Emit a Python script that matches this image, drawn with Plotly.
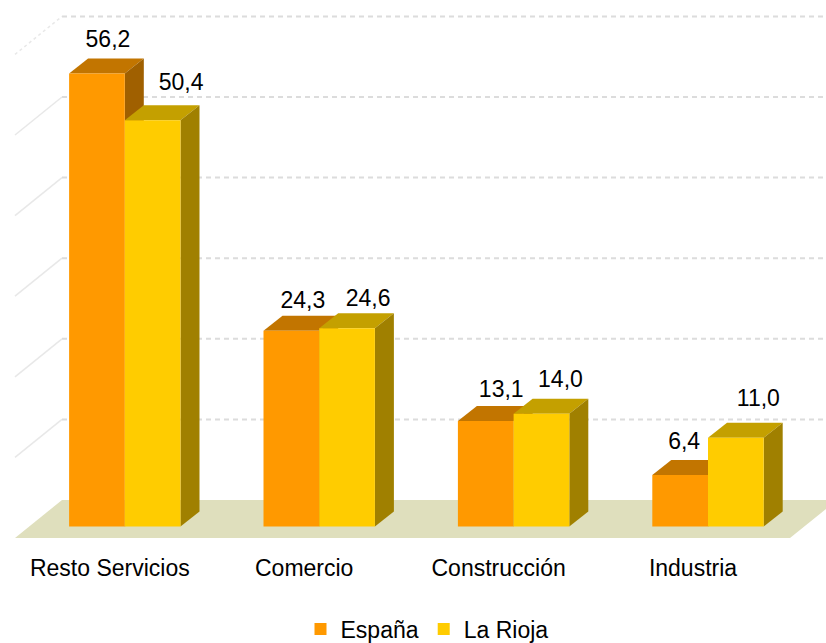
import plotly.graph_objects as go

# --- data ---
categories = ["Resto Servicios", "Comercio", "Construcción", "Industria"]
espana = [56.2, 24.3, 13.1, 6.4]
la_rioja = [50.4, 24.6, 14.0, 11.0]
grid_values = [10, 20, 30, 40, 50, 60]

# --- pixel geometry of the drawing ---
W, H = 826, 643
PLOT_BOTTOM = 552          # pixel row where the plot area ends
BASE_PX = 526.5            # pixel row of value 0 at the front of the bars
PX_PER_VALUE = 8.06
PX_PER_CAT = 194.4
CAT0_PX = 124.8
BAR_W = 55.7 / PX_PER_CAT
DX = 19 / PX_PER_CAT       # bar depth
DY = 15 / PX_PER_VALUE
WALL_DX = 47 / PX_PER_CAT  # full floor depth
WALL_DY = 38 / PX_PER_VALUE
FLOOR_FRONT = -11.5 / PX_PER_VALUE
WALL_BASE = FLOOR_FRONT + WALL_DY
LEFT = (15 - CAT0_PX) / PX_PER_CAT
FRONT_RIGHT = (790 - CAT0_PX) / PX_PER_CAT
TICK_SHIFT = -15 / PX_PER_CAT

# value label placement (px offset from the bar centre / top-front edge)
esp_label_dx = [11, 11.5, 15.5, 4]
rio_label_dx = [28.5, 21, 19, 22.5]
esp_label_dy = [32.5, 28.5, 30, 32]
rio_label_dy = [36.5, 28, 32.5, 38]

FONT = "Liberation Sans, Arial, sans-serif"
FS = 23

fig = go.Figure()


def poly(xs, ys, color, z):
    fig.add_trace(go.Scatter(x=xs + xs[:1], y=ys + ys[:1], mode="lines", fill="toself",
                             fillcolor=color, line=dict(width=0, color=color),
                             hoverinfo="skip", showlegend=False, zorder=z))


# floor
poly([LEFT, FRONT_RIGHT, FRONT_RIGHT + WALL_DX, LEFT + WALL_DX],
     [FLOOR_FRONT, FLOOR_FRONT, WALL_BASE, WALL_BASE], "#DFDFBD", 0)

# grid on the back and left walls
for g in grid_values:
    y = WALL_BASE + g
    fig.add_trace(go.Scatter(x=[LEFT + WALL_DX, (W - CAT0_PX) / PX_PER_CAT], y=[y, y], mode="lines",
                             line=dict(color="#DCDCDC", width=2, dash="5px,4px"),
                             hoverinfo="skip", showlegend=False, zorder=1))
    fig.add_trace(go.Scatter(x=[LEFT, LEFT + WALL_DX], y=[y - WALL_DY, y], mode="lines",
                             line=dict(color="#E8E8E8", width=1.5, dash="dot" if g == 60 else "solid"),
                             hoverinfo="skip", showlegend=False, zorder=1))


def series(name, values, x0_shift, front, top, side, z, dxs, dys):
    for i, v in enumerate(values):
        x0 = i + x0_shift
        x1 = x0 + BAR_W
        poly([x0, x1, x1 + DX, x0 + DX], [v, v, v + DY, v + DY], top, z)
        poly([x1, x1 + DX, x1 + DX, x1], [0, DY, v + DY, v], side, z)
    fig.add_trace(go.Bar(x=list(range(len(values))), y=values, name=name,
                         offset=x0_shift, width=BAR_W, marker=dict(color=front, line=dict(width=0)),
                         zorder=z + 1))
    fig.add_trace(go.Scatter(
        x=[i + x0_shift + BAR_W / 2 + d / PX_PER_CAT for i, d in enumerate(dxs)],
        y=[v + d / PX_PER_VALUE for v, d in zip(values, dys)],
        mode="text", text=[f"{v:.1f}".replace(".", ",") for v in values],
        textposition="middle center", textfont=dict(family=FONT, size=FS, color="#000"),
        hoverinfo="skip", showlegend=False, zorder=10, cliponaxis=False))


series("España", espana, -BAR_W, "#FF9900", "#C27500", "#A06000", 2, esp_label_dx, esp_label_dy)
series("La Rioja", la_rioja, 0, "#FFCC00", "#C4A000", "#A08000", 4, rio_label_dx, rio_label_dy)

fig.update_layout(
    width=W, height=H, autosize=False,
    margin=dict(l=0, r=0, t=0, b=H - PLOT_BOTTOM, pad=0, autoexpand=False),
    paper_bgcolor="white", plot_bgcolor="white",
    barmode="overlay",
    font=dict(family=FONT, size=FS, color="#000"),
    showlegend=True,
    legend=dict(orientation="h", x=0.5 + 14 / W, xanchor="center", y=-77 / PLOT_BOTTOM, yanchor="middle",
                font=dict(family=FONT, size=FS, color="#000"),
                bgcolor="rgba(0,0,0,0)", traceorder="normal"),
    xaxis=dict(range=[-CAT0_PX / PX_PER_CAT, (W - CAT0_PX) / PX_PER_CAT],
               tickvals=[i + TICK_SHIFT for i in range(len(categories))], ticktext=categories,
               showgrid=False, zeroline=False, showline=False, ticks="", tickangle=0,
               tickfont=dict(family=FONT, size=FS, color="#000")),
    yaxis=dict(range=[-(PLOT_BOTTOM - BASE_PX) / PX_PER_VALUE, BASE_PX / PX_PER_VALUE],
               visible=False, showgrid=False, zeroline=False),
)

fig.write_html("out.html", config={"displayModeBar": False},
               post_script="document.body.style.margin='0';document.documentElement.style.overflow='hidden';")
